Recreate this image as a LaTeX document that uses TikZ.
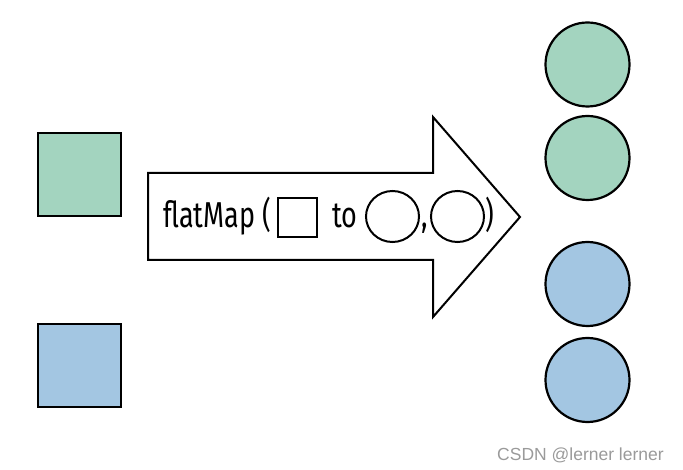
\documentclass[tikz,border=0pt]{standalone}
\usepackage{fontspec}
\setmainfont{Liberation Sans}
\newfontfamily\condfont[FakeStretch=0.75]{Fira Sans}
\newfontfamily\wmfont{Liberation Sans}
\definecolor{mgreen}{HTML}{A3D4BF}
\definecolor{mblue}{HTML}{A3C6E2}
\definecolor{wmgray}{HTML}{9A9A9A}
\usetikzlibrary{shapes.geometric}
\begin{document}
\begin{tikzpicture}[x=1pt,y=-1pt,
  shapeline/.style={draw=black,line width=2.2pt},
  sq/.style={shapeline,minimum size=83pt,inner sep=0pt,outer sep=0pt},
  dot/.style={shapeline,circle,minimum size=84pt,inner sep=0pt},
  lbl/.style={inner sep=0pt,anchor=base west,font=\condfont\fontsize{36}{36}\selectfont},
  tinysq/.style={draw=black,line width=2pt,minimum size=39pt,inner sep=0pt},
  tinyc/.style={draw=black,line width=2pt,ellipse,minimum width=53pt,minimum height=51pt,inner sep=0pt}]
\useasboundingbox (0,0) rectangle (683,470);
% left squares
\node[sq,fill=mgreen] (sg) at (79.5,174.5) {};
\node[sq,fill=mblue] (sb) at (79.5,365.5) {};
% right circles
\node[dot,fill=mgreen] (c1) at (587.5,64.5) {};
\node[dot,fill=mgreen] (c2) at (587.5,158) {};
\node[dot,fill=mblue] (c3) at (587.5,284) {};
\node[dot,fill=mblue] (c4) at (587.5,380) {};
% big arrow
\draw[black,line width=2pt,line join=miter] (148,173) -- (433,173) -- (433,117) -- (520,217) -- (433,317) -- (433,260) -- (148,260) -- cycle;
% label inside arrow
\node[lbl] (t1) at (163,228) {flatMap (};
\node[tinysq] (ts) at (297.5,217.5) {};
\node[lbl] (t2) at (332,228) {to};
\node[tinyc] (e1) at (392.5,216.5) {};
\node[lbl] (t3) at (421,228) {,};
\node[tinyc] (e2) at (457.5,216.5) {};
\node[lbl] (t4) at (485,228) {)};
% watermark
\node[inner sep=0pt,anchor=base west,text=wmgray,font=\wmfont\fontsize{17.5}{17.5}\selectfont] (wm) at (497,460) {CSDN @lerner lerner};
\end{tikzpicture}
\end{document}
